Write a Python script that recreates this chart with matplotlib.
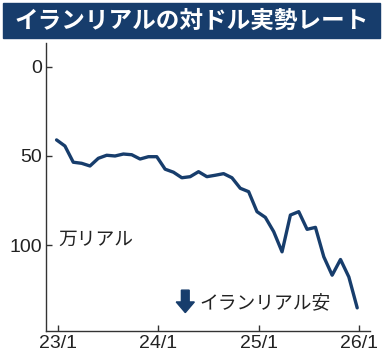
import numpy as np
import matplotlib
matplotlib.use("Agg")
import matplotlib.pyplot as plt
from matplotlib.patches import Rectangle, FancyArrow

# イランリアルの対ドル実勢レート(万リアル、月次)
rate = [41.1, 44.5, 53.6, 54.2, 55.7, 51.4, 49.7, 50.1, 49.0, 49.4,
        51.8, 50.5, 50.5, 57.5, 59.2, 62.3, 61.7, 58.9, 61.7, 60.9,
        60.0, 62.3, 68.2, 70.1, 81.3, 84.5, 92.5, 103.8, 83.2, 81.3,
        91.2, 90.1, 106.6, 116.9, 108.1, 117.9, 135.2]
months = np.arange(len(rate))
xtick_pos = [0.2, 12.2, 24.2, 36.2]
xtick_labels = ["23/1", "24/1", "25/1", "26/1"]
ytick_vals = [0, 50, 100]

navy = "#173d6c"
jp = ["Noto Sans CJK JP", "DejaVu Sans"]
num = ["Liberation Sans Narrow", "Liberation Sans", "DejaVu Sans"]

fig = plt.figure(figsize=(3.83, 3.63), dpi=100)

# タイトル帯
fig.patches.append(Rectangle((3 / 383, 1 - 38 / 363), 377 / 383, 35 / 363,
                             transform=fig.transFigure, color=navy, zorder=0))
fig.text(0.5, 1 - 21 / 363, "イランリアルの対ドル実勢レート", color="white",
         fontsize=17, fontweight="bold", family=jp, ha="center", va="center")

ax = fig.add_axes([0.120, 0.088, 0.846, 0.794])
ax.plot(months, rate, color=navy, lw=2.4, solid_joinstyle="round",
        solid_capstyle="round")

ax.set_xlim(-1.27, 37.53)
ax.set_ylim(148.2, -13.3)
ax.set_xticks(xtick_pos)
ax.set_xticklabels(xtick_labels)
ax.set_yticks(ytick_vals)
for s in ["top", "right"]:
    ax.spines[s].set_visible(False)
for s in ["left", "bottom"]:
    ax.spines[s].set_color("#333333")
    ax.spines[s].set_linewidth(1.0)
ax.tick_params(direction="in", length=4, width=1, color="#333333",
               labelcolor="#222222", pad=3)
for lab in ax.get_xticklabels() + ax.get_yticklabels():
    lab.set_family(num)
    lab.set_fontsize(14)

ax.text(0.037, 0.319, "万リアル", transform=ax.transAxes, family=jp,
        fontsize=13.5, color="#222222", ha="left", va="center")
ax.text(0.475, 0.097, "イランリアル安", transform=ax.transAxes, family=jp,
        fontsize=13.5, color="#222222", ha="left", va="center")
ax.add_patch(FancyArrow(0.43, 0.142, 0, -0.078, width=0.024,
                        head_width=0.056, head_length=0.037,
                        length_includes_head=True, transform=ax.transAxes,
                        color=navy, clip_on=False))

fig.savefig("out.png", dpi=100)
